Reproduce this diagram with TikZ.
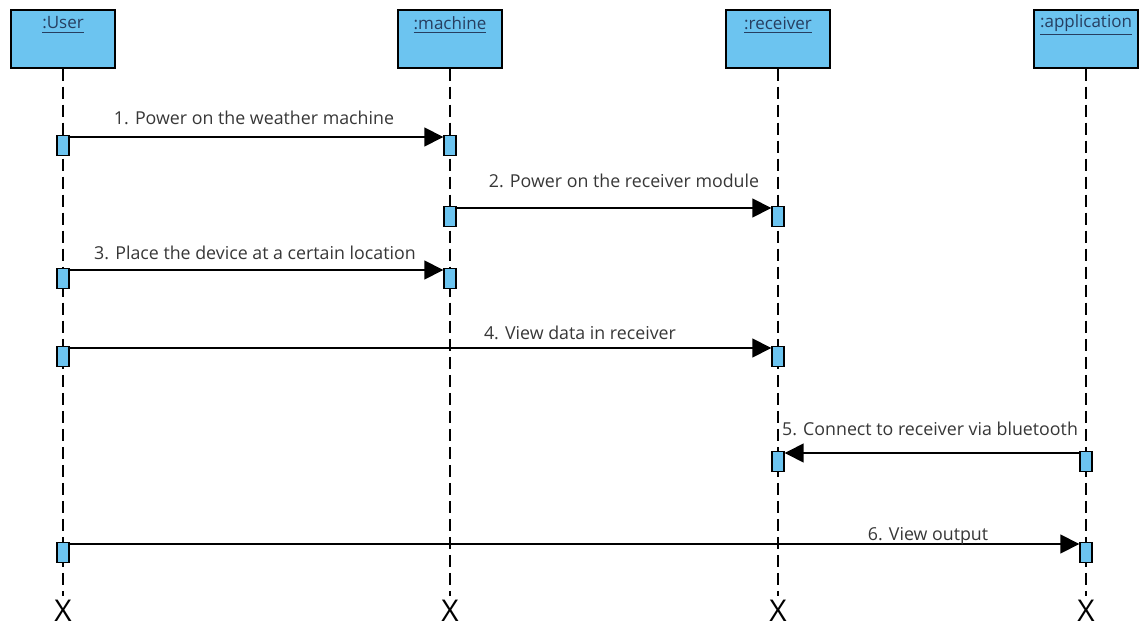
\documentclass[tikz,border=0pt]{standalone}
\usepackage{fontspec}
\setmainfont{Open Sans}
\usetikzlibrary{arrows.meta,positioning}

\definecolor{actblue}{RGB}{108,196,240}
\definecolor{headtext}{RGB}{38,62,96}
\definecolor{msgtext}{RGB}{55,55,55}

\tikzset{
	head/.style={draw=black,fill=actblue,line width=0.75pt,minimum width=52pt,minimum height=29pt,inner sep=0pt},
	headtxt/.style={text=headtext,font=\fontsize{8.5}{10}\selectfont,inner sep=0pt},
	act/.style={draw=black,fill=actblue,line width=0.7pt,minimum width=6pt,minimum height=10pt,inner sep=0pt,anchor=north},
	life/.style={dash pattern=on 6pt off 3pt,line width=0.65pt},
	msg/.style={-{Triangle[length=9.5pt,width=9.5pt]},line width=0.75pt},
	msgtxt/.style={text=msgtext,font=\fontsize{8.9}{10}\selectfont,inner sep=0pt},
	endx/.style={font=\fontsize{15}{15}\selectfont,inner sep=0pt}
}

\begin{document}
\begin{tikzpicture}[x=0.5pt,y=-0.5pt]
	\useasboundingbox (0,0) rectangle (1144,630);
	
	
	
	% objects
	\node[head] (user) at (63,39) {};
	\node[head] (machine) at (450,39) {};
	\node[head] (receiver) at (778,39) {};
	\node[head] (app) at (1086,39) {};
	
	\node[headtxt] (userlbl) at (63,25) {\underline{:User}};
	\node[headtxt] (machinelbl) at (450,25) {\underline{:machine}};
	\node[headtxt] (receiverlbl) at (778,25) {\underline{:receiver}};
	\node[headtxt] (applbl) at (1086,25) {\underline{:application}};
	
	
	
	% end marks and lifelines
	\node[endx] (userend) at (63,611) {X};
	\node[endx] (machineend) at (450,611) {X};
	\node[endx] (receiverend) at (778,611) {X};
	\node[endx] (append) at (1086,611) {X};
	
	\draw[life] (user.south) -- ([yshift=2pt]userend.north);
	\draw[life] (machine.south) -- ([yshift=2pt]machineend.north);
	\draw[life] (receiver.south) -- ([yshift=2pt]receiverend.north);
	\draw[life] (app.south) -- ([yshift=2pt]append.north);
	
	
	
	% activations
	\node[act] (u1) at (63,135) {};
	\node[act] (m1) at (450,135) {};
	\node[act] (m2) at (450,206) {};
	\node[act] (r2) at (778,206) {};
	\node[act] (u3) at (63,268) {};
	\node[act] (m3) at (450,268) {};
	\node[act] (u4) at (63,346) {};
	\node[act] (r4) at (778,346) {};
	\node[act] (a5) at (1086,451) {};
	\node[act] (r5) at (778,451) {};
	\node[act] (u6) at (63,542) {};
	\node[act] (a6) at (1086,542) {};
	
	
	
	% messages
	\draw[msg] ([yshift=-1pt]u1.north east) -- ([yshift=-1pt]m1.north west);
	\draw[msg] ([yshift=-1pt]m2.north east) -- ([yshift=-1pt]r2.north west);
	\draw[msg] ([yshift=-1pt]u3.north east) -- ([yshift=-1pt]m3.north west);
	\draw[msg] ([yshift=-1pt]u4.north east) -- ([yshift=-1pt]r4.north west);
	\draw[msg] ([yshift=-1pt]a5.north west) -- ([yshift=-1pt]r5.north east);
	\draw[msg] ([yshift=-1pt]u6.north east) -- ([yshift=-1pt]a6.north west);
	
	\node[msgtxt] (msg1) at (254,118) {1. Power on the weather machine};
	\node[msgtxt] (msg2) at (624,181) {2. Power on the receiver module};
	\node[msgtxt] (msg3) at (255,253) {3. Place the device at a certain location};
	\node[msgtxt] (msg4) at (580,333) {4. View data in receiver};
	\node[msgtxt] (msg5) at (930,429) {5. Connect to receiver via bluetooth};
	\node[msgtxt] (msg6) at (928,536) {6. View output};
	
\end{tikzpicture}
\end{document}
